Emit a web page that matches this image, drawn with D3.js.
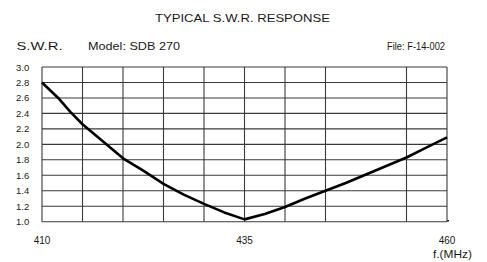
<!DOCTYPE html>
<html>
<head>
<meta charset="utf-8">
<script src="https://cdn.jsdelivr.net/npm/d3@7"></script>
<style>
  body { margin: 0; background: #fff; }
  text { font-family: "Liberation Sans", Arial, sans-serif; fill: #1a1a1a; }
</style>
</head>
<body>
<svg id="chart" width="487" height="262"></svg>
<script>
// values
var freqs = [410, 412, 413.5, 415, 417.5, 420, 422.5, 425, 427.5, 430, 432.5,
             435, 437.5, 440, 442.5, 445, 447.5, 450, 452.5, 455, 457.5, 460];
var swr = [2.80, 2.60, 2.42, 2.26, 2.04, 1.82, 1.66, 1.49, 1.35, 1.23, 1.12,
           1.03, 1.10, 1.19, 1.30, 1.40, 1.50, 1.61, 1.72, 1.83, 1.96, 2.09];
var freqGrid = [410, 415, 420, 425, 430, 435, 440, 445, 455, 460]; // no line at 450 in the original
var freqLabels = [410, 435, 460];
var swrTicks = [1.0, 1.2, 1.4, 1.6, 1.8, 2.0, 2.2, 2.4, 2.6, 2.8, 3.0];

var svg = d3.select('#chart');
var plotLeft = 42, plotRight = 447, plotTop = 67, plotBottom = 221.7;

var x = d3.scaleLinear().domain([410, 460]).range([plotLeft, plotRight]);
var y = d3.scaleLinear().domain([1, 3]).range([plotBottom, plotTop]);

// header texts
svg.append('text').attr('x', 155).attr('y', 22)
    .attr('font-size', 11).attr('textLength', 175).attr('lengthAdjust', 'spacingAndGlyphs')
    .text('TYPICAL S.W.R. RESPONSE');
svg.append('text').attr('x', 16.5).attr('y', 49.5)
    .attr('font-size', 11.5).attr('textLength', 46).attr('lengthAdjust', 'spacingAndGlyphs')
    .text('S.W.R.');
svg.append('text').attr('x', 88).attr('y', 50)
    .attr('font-size', 11).attr('textLength', 92).attr('lengthAdjust', 'spacingAndGlyphs')
    .text('Model:  SDB 270');
svg.append('text').attr('x', 387).attr('y', 50)
    .attr('font-size', 11).attr('textLength', 58).attr('lengthAdjust', 'spacingAndGlyphs')
    .text('File: F-14-002');

// grid
var grid = svg.append('g').attr('stroke', '#3a3a3a').attr('stroke-width', 1.1);
grid.selectAll('line.h').data(swrTicks).enter().append('line')
    .attr('class', 'h')
    .attr('x1', plotLeft).attr('x2', plotRight)
    .attr('y1', function(d) { return y(d); })
    .attr('y2', function(d) { return y(d); });
grid.selectAll('line.v').data(freqGrid).enter().append('line')
    .attr('class', 'v')
    .attr('x1', function(d) { return x(d); })
    .attr('x2', function(d) { return x(d); })
    .attr('y1', plotTop).attr('y2', plotBottom);

// little end mark at the x axis
svg.append('line').attr('x1', x(460)).attr('x2', x(460) + 2)
    .attr('y1', plotBottom - 1).attr('y2', plotBottom - 1)
    .attr('stroke', '#222').attr('stroke-width', 1.5);

// y labels
svg.selectAll('text.ylab').data(swrTicks).enter().append('text')
    .attr('class', 'ylab')
    .attr('x', 16).attr('y', function(d) { return y(d) + 3.5; })
    .attr('font-size', 9.5)
    .text(function(d) { return d.toFixed(1); });

// x labels
svg.selectAll('text.xlab').data(freqLabels).enter().append('text')
    .attr('class', 'xlab')
    .attr('x', function(d) { return x(d); }).attr('y', 244)
    .attr('text-anchor', 'middle').attr('font-size', 10)
    .text(function(d) { return d; });
svg.append('text').attr('x', 433).attr('y', 257.5)
    .attr('font-size', 11.5).attr('textLength', 39).attr('lengthAdjust', 'spacingAndGlyphs')
    .text('f.(MHz)');

// curve
var line = d3.line()
    .x(function(d) { return x(d[0]); })
    .y(function(d) { return y(d[1]); });
svg.append('path')
    .datum(d3.zip(freqs, swr))
    .attr('d', line)
    .attr('fill', 'none')
    .attr('stroke', '#000')
    .attr('stroke-width', 2.6)
    .attr('stroke-linejoin', 'round');
</script>
</body>
</html>
